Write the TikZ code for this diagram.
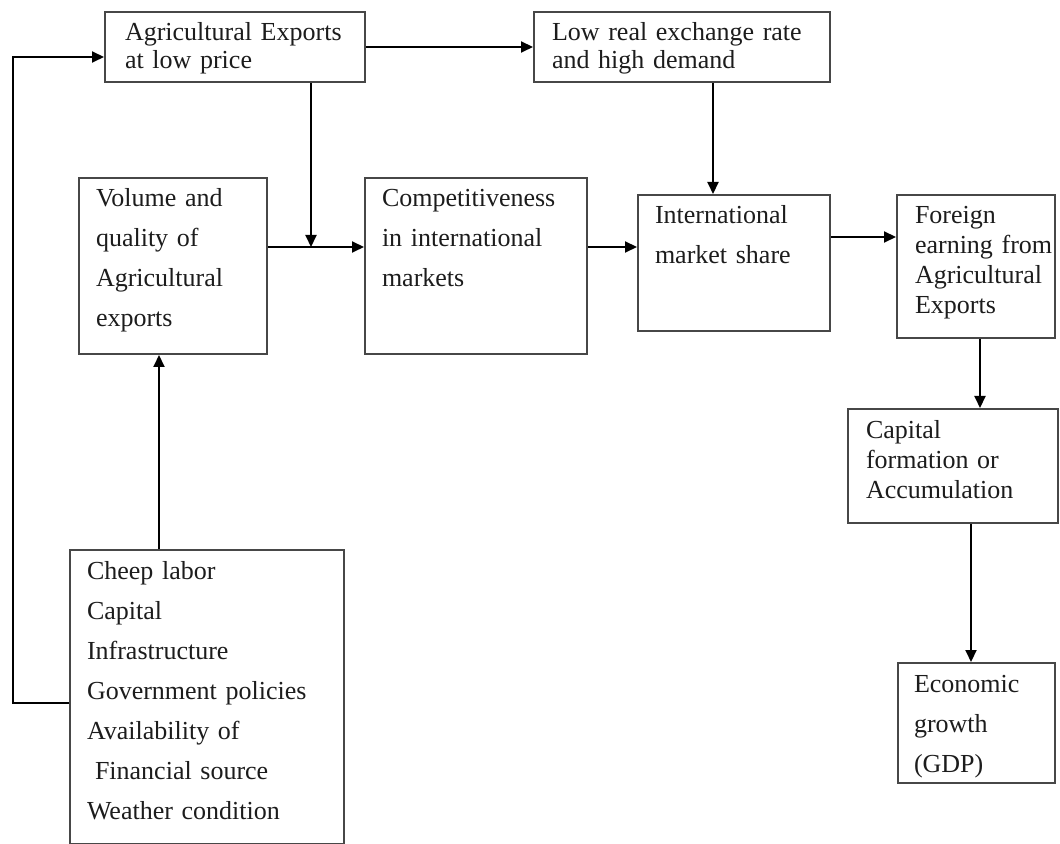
\documentclass[tikz,border=0pt]{standalone}
\usepackage{fontspec}
\setmainfont{Liberation Serif}
\usetikzlibrary{arrows.meta}
\definecolor{Ink}{HTML}{1C1C1C}
\definecolor{Edge}{HTML}{474747}
\tikzset{
  box/.style={draw=Edge,line width=1pt,anchor=north west,align=left,inner xsep=8.5pt,inner ysep=0pt,text height=14.5pt,text=Ink},
  loose/.style={font=\fontsize{13pt}{20pt}\selectfont},
  tight/.style={font=\fontsize{13pt}{14pt}\selectfont},
  snug/.style={font=\fontsize{13pt}{15pt}\selectfont},
  arr/.style={-{Triangle[length=6pt,width=5.5pt]},draw=black,line width=1pt}
}
\begin{document}
\begin{tikzpicture}[x=0.5pt,y=-0.5pt]
  \useasboundingbox (0,0) rectangle (1060,844);
  % boxes
  \node[box,tight,inner xsep=10pt,text width=110pt,text depth=20.5pt] (exp) at (104,11) {Agricultural Exports\\at low price};
  \node[box,tight,inner xsep=9pt,text width=130pt,text depth=20.5pt] (rate) at (533,11) {Low real exchange rate\\and high demand};
  \node[box,loose,text width=77pt,text depth=73.5pt] (vol) at (78,177) {Volume and\\quality of\\Agricultural\\exports};
  \node[box,loose,text width=94pt,text depth=73.5pt] (comp) at (364,177) {Competitiveness\\in international\\markets};
  \node[box,loose,text width=79pt,text depth=53.5pt] (share) at (637,194) {International\\market share};
  \node[box,snug,inner xsep=9pt,text width=61pt,text depth=57pt] (earn) at (896,194) {Foreign\\earning~from\\Agricultural\\Exports};
  \node[box,snug,inner xsep=9pt,text width=87pt,text depth=42.5pt] (capf) at (847,408) {Capital\\formation or\\Accumulation};
  \node[box,loose,inner xsep=8pt,text width=62.5pt,text depth=45.5pt] (gdp) at (897,662) {Economic\\growth\\(GDP)};
  \node[box,loose,text width=120pt,text depth=132.5pt] (inputs) at (69,549) {Cheep labor\\Capital\\Infrastructure\\Government policies\\Availability of\\\hspace{4pt}Financial source\\Weather condition};
  % turning points
  \coordinate (jn) at (311,247);
  \coordinate (rx) at (713,0);
  \coordinate (ey) at (0,237);
  \coordinate (ex) at (980,0);
  \coordinate (cx) at (971,0);
  \coordinate (ix) at (159,0);
  \coordinate (lowturn) at (12.5,703);
  \coordinate (highturn) at (12.5,57);
  % connectors
  \draw[arr] (exp) -- (rate);
  \draw[arr] (exp.south -| jn) -- (jn);
  \draw[arr] (vol.east |- jn) -- (comp.west |- jn);
  \draw[arr] (comp.east |- jn) -- (share.west |- jn);
  \draw[arr] (rate.south -| rx) -- (share.north -| rx);
  \draw[arr] (share.east |- ey) -- (earn.west |- ey);
  \draw[arr] (earn.south -| ex) -- (capf.north -| ex);
  \draw[arr] (capf.south -| cx) -- (gdp.north -| cx);
  \draw[arr] (inputs.north -| ix) -- (vol.south -| ix);
  \draw[arr] (inputs.west |- lowturn) -- (lowturn) -- (highturn) -- (exp.west |- highturn);
\end{tikzpicture}
\end{document}
